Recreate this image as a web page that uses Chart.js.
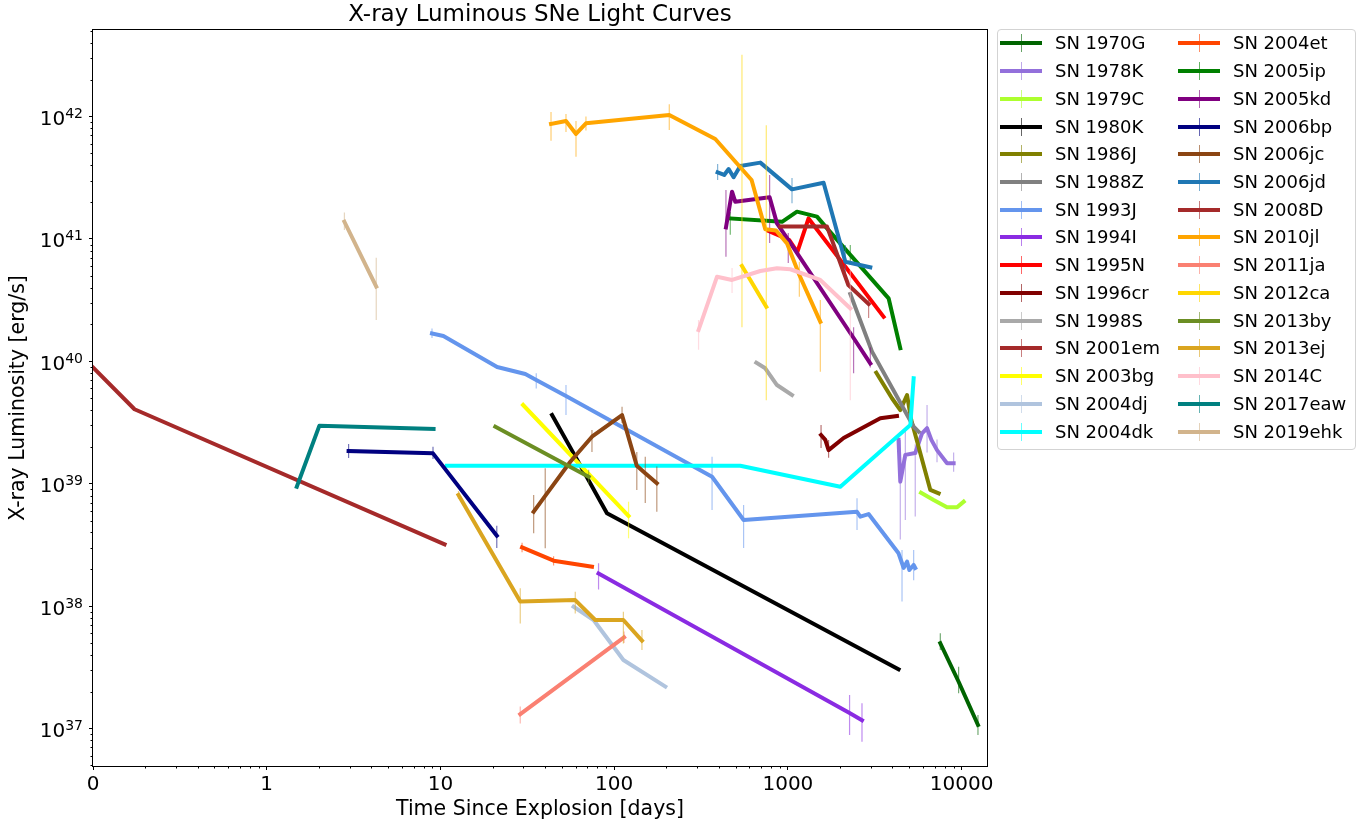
<!DOCTYPE html>
<html><head><meta charset="utf-8">
<script src="https://cdn.jsdelivr.net/npm/chart.js@4.4.1/dist/chart.umd.min.js"></script>
<style>
html,body{margin:0;padding:0;background:#fff;}
#wrap{position:relative;width:1371px;height:829px;}
#legend{position:absolute;left:997px;top:29px;width:357px;height:419px;border:1px solid #d3d3d3;border-radius:4px;background:rgba(255,255,255,0.8);font-family:'DejaVu Sans';font-size:18px;color:#000;}
.item{position:absolute;height:24px;line-height:24px;white-space:nowrap;}
.hl{position:absolute;height:4px;width:42px;}
.ht{position:absolute;width:1px;height:18px;opacity:0.6;}
</style></head><body>
<div id="wrap"><canvas id="c" width="1371" height="829"></canvas><div id="legend"></div></div>
<script>
// ---- data: [days, luminosity (erg/s), errLow, errHigh] ----
const SN_1970G = [[7540, 4.97e37, 4.37e37, 6.0e37], [9610, 2.41e37, 1.94e37, 3.2e37], [12420, 1.07e37, 8.85e36, 1.29e37]];
const SN_1978K = [[4335, 2.28e39], [4436, 1.04e39, 3.5e38, 2.28e39], [4742, 1.72e39, 5.05e38, 2.75e39], [5408, 1.78e39, 5.4e38, 2.1e39], [5916, 2.58e39], [6324, 2.84e39, 1.8e39, 4.4e39], [6699, 2.28e39], [7217, 1.88e39, 1.5e39, 2.3e39], [8243, 1.47e39], [8995, 1.47e39, 1.25e39, 1.8e39]];
const SN_1979C = [[5840, 8.44e38], [6900, 7.36e38], [8240, 6.41e38], [9420, 6.41e38], [10280, 7.13e38]];
const SN_1980K = [[43.9, 3.64e39], [58.4, 1.77e39], [90.9, 5.73e38], [4335, 3.05e37]];
const SN_1986J = [[3228, 8.07e39], [3973, 4.99e39], [4436, 4.0e39], [4852, 5.3e39], [5132, 3.31e39], [6605, 8.9e38], [7375, 8.35e38]];
const SN_1988Z = [[2287, 3.55e40], [3050, 1.2e40], [5296, 2.92e39], [5652, 2.66e39]];
const SN_1993J = [[8.94, 1.69e40, 1.55e40, 1.85e40], [10.4, 1.61e40], [21.2, 8.98e39], [30.8, 7.87e39], [35.6, 7.03e39, 6.0e39, 8.0e39], [52.8, 5.2e39, 3.64e39, 6.4e39], [366, 1.14e39, 6.1e38, 1.66e39], [556, 5.05e38, 2.98e38, 6.7e38], [2500, 5.9e38, 4.19e38, 7.6e38], [2612, 5.38e38], [2915, 5.65e38], [4335, 2.7e38], [4539, 2.24e38, 1.09e38, 2.87e38], [4634, 2.05e38], [4852, 2.31e38], [5000, 1.97e38], [5296, 2.17e38, 1.63e38, 2.87e38], [5408, 2.05e38]];
const SN_1994I = [[81.3, 1.85e38, 1.37e38, 2.24e38], [2265, 1.34e37, 8.85e36, 1.88e37], [2670, 1.17e37, 7.8e36, 1.61e37]];
const SN_1995N = [[774, 1.16e41], [1019, 9.8e40], [1133, 7.8e40], [1315, 1.47e41], [3556, 2.31e40]];
const SN_1996cr = [[1552, 2.5e39, 1.96e39, 3.02e39], [1642, 2.28e39], [1715, 1.88e39, 1.63e39, 2.28e39], [2093, 2.36e39], [2612, 2.8e39], [3404, 3.42e39], [4246, 3.57e39]];
const SN_1998S = [[658, 9.75e39], [741, 8.77e39], [865, 6.4e39], [1056, 5.3e39]];
const SN_2001em = [[0, 8.9e39], [0.239, 4.06e39], [10.56, 3.2e38]];
const SN_2003bg = [[29.9, 4.4e39], [121, 5.45e38, 3.58e38, 7.13e38]];
const SN_2004dj = [[58.4, 9.89e37], [76.1, 7.7e37], [113, 3.63e37], [197, 2.2e37]];
const SN_2004dk = [[10.9, 1.4e39], [532, 1.4e39], [2004, 9.45e38], [5070, 3.02e39], [5296, 7.27e39]];
const SN_2004et = [[29.5, 3.02e38, 2.75e38, 3.3e38], [44.8, 2.35e38, 2.15e38, 2.55e38], [74.5, 2.1e38]];
const SN_2005ip = [[466, 1.47e41, 1.08e41, 1.66e41], [925, 1.38e41], [1128, 1.67e41], [1471, 1.52e41], [1680, 1.22e41], [2287, 7.4e40, 6.12e40, 8.9e40], [3800, 3.27e40], [4436, 1.28e40]];
const SN_2005kd = [[440, 1.24e41, 7.16e40, 2.51e41], [477, 2.43e41], [498, 2.01e41], [785, 2.19e41, 9.27e40, 3.33e41], [865, 1.34e41], [1005, 9.8e40, 6.35e40, 1.12e41], [2389, 1.55e40, 8.0e39, 1.9e40], [2981, 9.6e39, 8.9e39, 1.3e40]];
const SN_2006bp = [[2.96, 1.85e39, 1.62e39, 2.11e39], [9.06, 1.77e39, 1.59e39, 2.0e39], [21.1, 3.76e38, 2.98e38, 4.54e38]];
const SN_2006jc = [[34.4, 5.9e38, 3.94e38, 8.1e38], [40.1, 7.96e38, 2.97e38, 1.34e39], [55.9, 1.51e39], [74.5, 2.42e39, 1.82e39, 2.75e39], [111, 3.64e39, 3.13e39, 4.26e39], [135, 1.4e39, 8.9e38, 1.82e39], [151, 1.22e39, 6.95e38, 1.66e39], [176, 1.01e39, 5.9e38, 1.38e39]];
const SN_2006jd = [[394, 3.5e41, 3.03e41, 4.09e41], [430, 3.33e41], [456, 3.72e41], [487, 3.19e41], [532, 3.94e41], [694, 4.2e41], [1056, 2.54e41, 1.96e41, 3.15e41], [1605, 2.88e41], [2141, 6.5e40, 5.07e40, 8.9e40], [2981, 5.86e40]];
const SN_2008D = [[904, 1.26e41], [1680, 1.26e41], [2228, 4.2e40], [2915, 2.94e40, 2.26e40, 3.42e40]];
const SN_2010jl = [[43.3, 8.7e41, 6.34e41, 1.09e42], [52.8, 9.2e41, 7.46e41, 1.05e42], [60.3, 7.2e41, 4.7e41, 9.2e41], [68.8, 8.8e41, 7.7e41, 1.0e42], [207.6, 1.03e42, 7.76e41, 1.26e42], [382, 6.55e41], [618, 3.03e41], [741, 1.2e41], [855, 1.17e41], [988, 9.2e40], [1164, 5.07e40, 3.37e40, 6.5e40], [1537, 2.1e40, 8.2e39, 3.17e40]];
const SN_2011ja = [[28.8, 1.31e37, 1.1e37, 1.51e37], [114, 5.56e37, 5.0e37, 6.2e37]];
const SN_2012ca = [[544, 6.0e40, 1.9e40, 3.2e42], [751, 2.79e40, 4.8e39, 8.5e41]];
const SN_2013by = [[20.7, 2.92e39], [71.3, 1.14e39, 1.0e39, 1.3e39]];
const SN_2013ej = [[12.7, 8.09e38, 7.5e38, 8.7e38], [28.8, 1.09e38, 7.2e37, 1.4e38], [59.7, 1.12e38, 8.7e37, 1.31e38], [77.8, 7.7e37], [113, 7.7e37, 4.96e37, 9.0e37], [144.5, 5.22e37, 4.37e37, 6.38e37]];
const SN_2014C = [[306, 1.8e40, 1.24e40, 2.17e40], [391, 4.91e40], [477, 4.62e40, 3.61e40, 5.78e40], [694, 5.47e40], [865, 5.75e40], [1033, 5.65e40], [1536, 4.62e40], [2287, 2.71e40, 4.8e39, 5.57e40]];
const SN_2017eaw = [[1.49, 9.45e38], [2.01, 2.98e39], [9.13, 2.8e39]];
const SN_2019ehk = [[2.80, 1.38e41, 1.18e41, 1.64e41], [4.27, 4.07e40, 2.17e40, 7.0e40]];

const names = ['SN 1970G','SN 1978K','SN 1979C','SN 1980K','SN 1986J','SN 1988Z','SN 1993J','SN 1994I','SN 1995N','SN 1996cr','SN 1998S','SN 2001em','SN 2003bg','SN 2004dj','SN 2004dk','SN 2004et','SN 2005ip','SN 2005kd','SN 2006bp','SN 2006jc','SN 2006jd','SN 2008D','SN 2010jl','SN 2011ja','SN 2012ca','SN 2013by','SN 2013ej','SN 2014C','SN 2017eaw','SN 2019ehk'];
const series = [SN_1970G, SN_1978K, SN_1979C, SN_1980K, SN_1986J, SN_1988Z, SN_1993J, SN_1994I, SN_1995N, SN_1996cr, SN_1998S, SN_2001em, SN_2003bg, SN_2004dj, SN_2004dk, SN_2004et, SN_2005ip, SN_2005kd, SN_2006bp, SN_2006jc, SN_2006jd, SN_2008D, SN_2010jl, SN_2011ja, SN_2012ca, SN_2013by, SN_2013ej, SN_2014C, SN_2017eaw, SN_2019ehk];
const colors = ['#006400','#9370DB','#ADFF2F','#000000','#808000','#808080','#6495ED','#8A2BE2','#FF0000','#800000','#A9A9A9','#A52A2A','#FFFF00','#B0C4DE','#00FFFF','#FF4500','#008000','#800080','#000080','#8B4513','#1F77B4','#A52A2A','#FFA500','#FA8072','#FFD700','#6B8E23','#DAA520','#FFC0CB','#008080','#D2B48C'];
const xTicks = [0, 1, 10, 100, 1000, 10000];
const yTicks = [1e37, 1e38, 1e39, 1e40, 1e41, 1e42];
const xRange = [0, 14000];
const yRange = [4.94e36, 5.09e42];

// ---- symmetric log scale (linear between 0 and 1) ----
const tf = v => v <= 1 ? v : 1 + Math.log10(v);
const itf = t => t <= 1 ? t : Math.pow(10, t - 1);
class SymLogScale extends Chart.Scale {
  static id = 'symlog';
  static defaults = {};
  parse(raw) { if (raw === null || raw === undefined) return null; const v = +raw; return Number.isFinite(v) ? v : null; }
  determineDataLimits() {
    const {min, max} = this.getMinMax(true);
    this.min = Number.isFinite(min) ? min : 0;
    this.max = Number.isFinite(max) ? max : 1;
  }
  buildTicks() { return xTicks.filter(v => v >= this.min && v <= this.max).map(v => ({value: v})); }
  configure() { super.configure(); this._t0 = tf(this.min); this._t1 = tf(this.max); }
  getPixelForValue(v) {
    if (v === null || v === undefined || isNaN(v)) return NaN;
    return this.getPixelForDecimal((tf(v) - this._t0) / (this._t1 - this._t0));
  }
  getValueForPixel(p) { return itf(this._t0 + this.getDecimalForPixel(p) * (this._t1 - this._t0)); }
  getLabelForValue(v) { return String(v); }
}
Chart.register(SymLogScale);

Chart.defaults.font.family = 'DejaVu Sans';
Chart.defaults.color = '#000';

const expOf = v => Math.round(Math.log10(v));

const errPlugin = {
  id: 'errbars',
  beforeDatasetDraw(chart, args) {
    const i = args.index, s = series[i];
    const ctx = chart.ctx, xs = chart.scales.x, ys = chart.scales.y, a = chart.chartArea;
    ctx.save();
    ctx.beginPath(); ctx.rect(a.left, a.top, a.right - a.left, a.bottom - a.top); ctx.clip();
    ctx.strokeStyle = colors[i]; ctx.globalAlpha = 0.55; ctx.lineWidth = 1.2;
    ctx.beginPath();
    s.forEach(p => {
      if (p.length < 4) return;
      const px = xs.getPixelForValue(p[0]);
      ctx.moveTo(px, ys.getPixelForValue(p[2]));
      ctx.lineTo(px, ys.getPixelForValue(p[3]));
    });
    ctx.stroke();
    ctx.restore();
  }
};

const framePlugin = {
  id: 'frame',
  afterDraw(chart) {
    const ctx = chart.ctx, a = chart.chartArea, xs = chart.scales.x, ys = chart.scales.y;
    ctx.save();
    ctx.strokeStyle = '#000'; ctx.lineWidth = 1;
    ctx.strokeRect(Math.round(a.left) - 0.5, Math.round(a.top) - 0.5, Math.round(a.right - a.left) + 1, Math.round(a.bottom - a.top) + 1);
    ctx.beginPath();
    const xm = [];
    for (let k = 2; k <= 9; k++) xm.push(Math.log10(k));
    for (let n = 0; n <= 4; n++) for (let k = 2; k <= 9; k++) xm.push(k * Math.pow(10, n));
    xm.forEach(v => {
      if (v < xs.min || v > xs.max) return;
      const px = Math.round(xs.getPixelForValue(v)) + 0.5;
      ctx.moveTo(px, a.bottom); ctx.lineTo(px, a.bottom + 2.5);
    });
    for (let n = 36; n <= 42; n++) for (let k = 2; k <= 9; k++) {
      const v = k * Math.pow(10, n);
      if (v < ys.min || v > ys.max) continue;
      const py = Math.round(ys.getPixelForValue(v)) + 0.5;
      ctx.moveTo(a.left, py); ctx.lineTo(a.left - 2.5, py);
    }
    ctx.stroke();
    // y tick labels as 10 with superscript exponent
    ctx.fillStyle = '#000';
    ctx.textBaseline = 'alphabetic';
    ys.ticks.forEach(t => {
      const py = ys.getPixelForValue(t.value);
      const ex = String(expOf(t.value));
      ctx.font = '14px "DejaVu Sans"';
      const ew = ctx.measureText(ex).width;
      const right = a.left - 10;
      ctx.textAlign = 'left';
      ctx.fillText(ex, right - ew, py + 1.5);
      ctx.font = '20px "DejaVu Sans"';
      ctx.textAlign = 'right';
      ctx.fillText('10', right - ew, py + 8.5);
    });
    ctx.restore();
  }
};

const N = series.length;
new Chart(document.getElementById('c'), {
  type: 'line',
  data: {
    datasets: series.map((s, i) => ({
      label: names[i],
      data: s.map(p => ({x: p[0], y: p[1]})),
      borderColor: colors[i], backgroundColor: colors[i],
      borderWidth: 4, pointRadius: 0, pointHoverRadius: 0,
      borderJoinStyle: 'round', borderCapStyle: 'square',
      tension: 0, fill: false, order: N - i
    }))
  },
  options: {
    responsive: false, animation: false, events: [],
    layout: {padding: {left: 0, right: 384, top: 0, bottom: 0}},
    plugins: {
      legend: {display: false}, tooltip: {enabled: false},
      title: {display: true, text: 'X-ray Luminous SNe Light Curves', fullSize: false,
        font: {size: 23, weight: 'normal'}, color: '#000', padding: {top: 1, bottom: 1.4}}
    },
    scales: {
      x: {
        type: 'symlog', min: xRange[0], max: xRange[1],
        afterFit: s => { s.height = 63; },
        border: {display: false},
        grid: {display: true, drawOnChartArea: false, tickLength: 4, tickColor: '#000', tickWidth: 1},
        ticks: {autoSkip: false, maxRotation: 0, padding: 3, font: {size: 20}, callback: v => String(v)},
        title: {display: true, text: 'Time Since Explosion [days]', font: {size: 20.5}, padding: {top: 0, bottom: 7}}
      },
      y: {
        type: 'logarithmic', min: yRange[0], max: yRange[1],
        afterFit: s => { s.width = 93; },
        afterBuildTicks: s => { s.ticks = yTicks.map(v => ({value: v, major: true})); },
        border: {display: false},
        grid: {display: true, drawOnChartArea: false, tickLength: 4, tickColor: '#000', tickWidth: 1},
        ticks: {display: false, autoSkip: false},
        title: {display: true, text: 'X-ray Luminosity [erg/s]', font: {size: 20.5}, padding: {top: 6, bottom: 0}}
      }
    }
  },
  plugins: [errPlugin, framePlugin]
});

// ---- legend (HTML) ----
const lg = document.getElementById('legend');
names.forEach((nm, i) => {
  const col = i < 15 ? 0 : 1, row = i % 15;
  const cy = 13.3 + 27.74 * row;
  const x0 = col === 0 ? 2 : 180;
  const hl = document.createElement('div'); hl.className = 'hl';
  hl.style.left = x0 + 'px'; hl.style.top = (cy - 2) + 'px'; hl.style.background = colors[i];
  const ht = document.createElement('div'); ht.className = 'ht';
  ht.style.left = (x0 + 21) + 'px'; ht.style.top = (cy - 9) + 'px'; ht.style.background = colors[i];
  const it = document.createElement('div'); it.className = 'item';
  it.style.left = (x0 + 55) + 'px'; it.style.top = (cy - 12) + 'px'; it.textContent = nm;
  lg.appendChild(hl); lg.appendChild(ht); lg.appendChild(it);
});
</script>
</body></html>
